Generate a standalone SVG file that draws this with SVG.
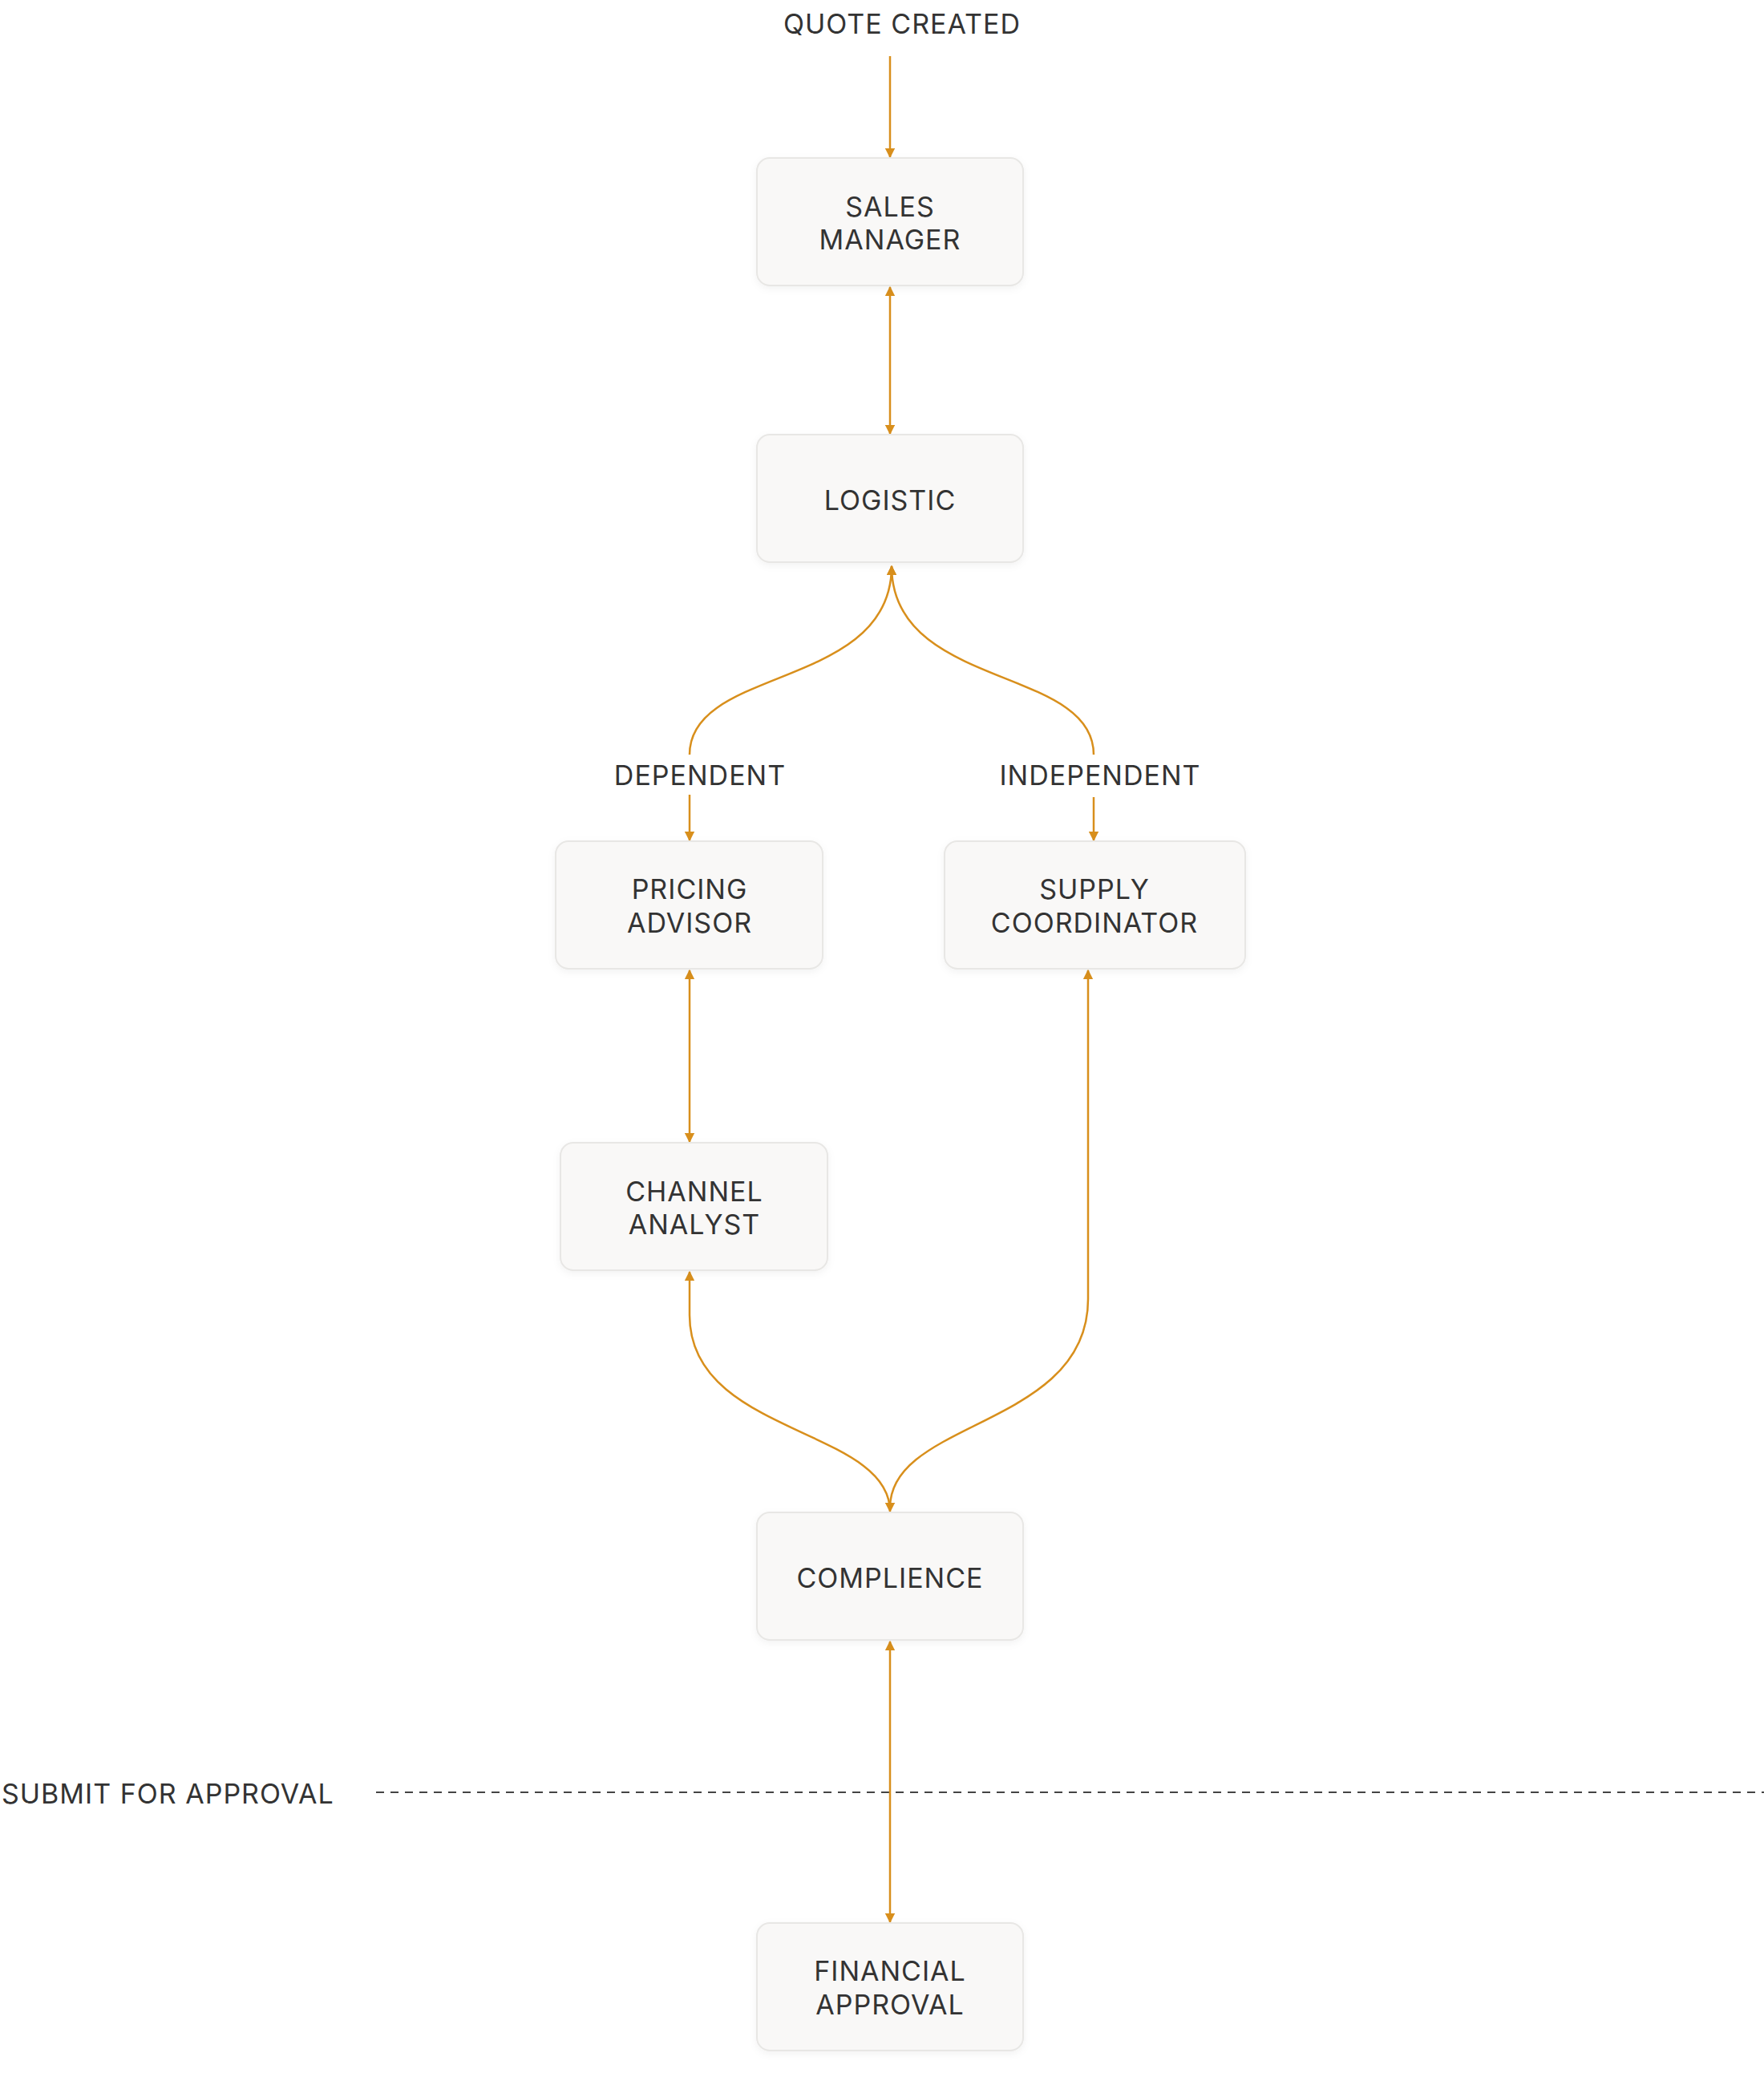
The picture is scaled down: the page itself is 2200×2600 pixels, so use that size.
<svg xmlns="http://www.w3.org/2000/svg" width="2200" height="2600" viewBox="0 0 2200 2600">
<defs>
<marker id="ah" viewBox="0 0 10 10" refX="9" refY="5" markerWidth="5" markerHeight="5" orient="auto-start-reverse"><path d="M0,0 L10,5 L0,10 z" fill="#d88f1c"/></marker>
<filter id="sh" x="-10%" y="-10%" width="120%" height="130%"><feDropShadow dx="0" dy="3" stdDeviation="5" flood-color="#000" flood-opacity="0.05"/></filter>
</defs>
<style>
.box{fill:#f9f8f7;stroke:#e8e7e5;stroke-width:2;filter:url(#sh)}
.t{font-family:Inter,"Liberation Sans",sans-serif;font-size:34px;fill:#333;letter-spacing:1px;text-anchor:middle;dominant-baseline:central}
.c{fill:none;stroke:#d88f1c;stroke-width:2.5}
.e{marker-end:url(#ah)}
.s{marker-start:url(#ah)}
</style>
<rect width="2200" height="2600" fill="#fff"/>
<text class="t" x="1125" y="29">QUOTE CREATED</text>
<text class="t" x="2" y="2236" style="text-anchor:start">SUBMIT FOR APPROVAL</text>
<line x1="469" y1="2235" x2="2200" y2="2235" stroke="#444" stroke-width="2" stroke-dasharray="10 8"/>
<g id="connectors">
<line class="c e" x1="1110" y1="70" x2="1110" y2="196"/>
<line class="c e s" x1="1110" y1="358" x2="1110" y2="541"/>
<path class="c s" d="M1112,706 C1112,860 860,830 860,941"/>
<path class="c s" d="M1112,706 C1112,860 1364,830 1364,941"/>
<line class="c e" x1="860" y1="991" x2="860" y2="1048"/>
<line class="c e" x1="1364" y1="994" x2="1364" y2="1048"/>
<line class="c e s" x1="860" y1="1210" x2="860" y2="1424"/>
<path class="c s e" d="M860,1586 L860,1640 C860,1790 1110,1780 1110,1885"/>
<path class="c s" d="M1357,1210 L1357,1620 C1357,1780 1110,1770 1110,1880"/>
<line class="c e s" x1="1110" y1="2047" x2="1110" y2="2397"/>
</g>
<g id="sales-manager"><rect class="box" x="944" y="197" width="332" height="159" rx="16"/><text class="t" x="1110" y="257">SALES</text><text class="t" x="1110" y="298">MANAGER</text></g>
<g id="logistic"><rect class="box" x="944" y="542" width="332" height="159" rx="16"/><text class="t" x="1110" y="623">LOGISTIC</text></g>
<text class="t" x="873" y="966">DEPENDENT</text>
<text class="t" x="1372" y="966">INDEPENDENT</text>
<g id="pricing-advisor"><rect class="box" x="693" y="1049" width="333" height="159" rx="16"/><text class="t" x="860" y="1108">PRICING</text><text class="t" x="860" y="1150">ADVISOR</text></g>
<g id="supply-coordinator"><rect class="box" x="1178" y="1049" width="375" height="159" rx="16"/><text class="t" x="1365" y="1108">SUPPLY</text><text class="t" x="1365" y="1150">COORDINATOR</text></g>
<g id="channel-analyst"><rect class="box" x="699" y="1425" width="333" height="159" rx="16"/><text class="t" x="866" y="1485">CHANNEL</text><text class="t" x="866" y="1526">ANALYST</text></g>
<g id="compliance"><rect class="box" x="944" y="1886" width="332" height="159" rx="16"/><text class="t" x="1110" y="1967">COMPLIENCE</text></g>
<g id="financial-approval"><rect class="box" x="944" y="2398" width="332" height="159" rx="16"/><text class="t" x="1110" y="2457">FINANCIAL</text><text class="t" x="1110" y="2499">APPROVAL</text></g>
</svg>
